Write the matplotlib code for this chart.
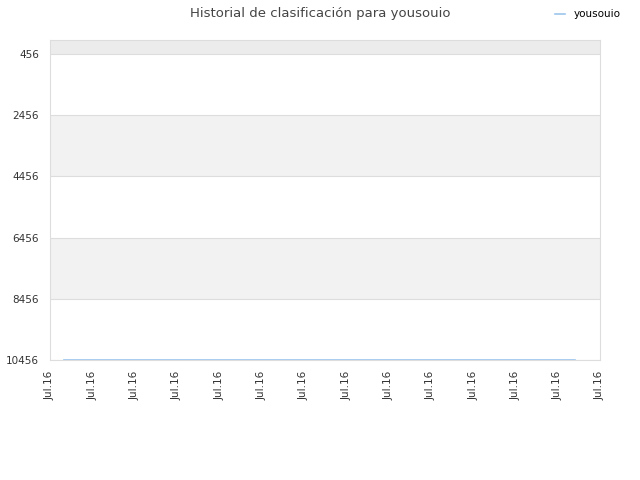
import matplotlib
matplotlib.use("Agg")
import matplotlib.pyplot as plt

# data
tick_labels = ["Jul.16"] * 14
tick_pos = list(range(14))
ranks_x = [0.33, 2.0, 4.0, 6.0, 8.0, 10.0, 12.4]
ranks_y = [10440, 10440, 10440, 10440, 10440, 10440, 10440]
ytick_vals = [456, 2456, 4456, 6456, 8456, 10456]

fig = plt.figure(figsize=(6.4, 4.8), dpi=100)
ax = fig.add_axes([50/640, 1 - 360/480, 550/640, 320/480])

# alternating bands
ax.axhspan(0, 456, color="#ececec", zorder=0, lw=0)
for i in range(len(ytick_vals) - 1):
    if i % 2 == 1:
        ax.axhspan(ytick_vals[i], ytick_vals[i + 1], color="#f2f2f2", zorder=0, lw=0)
for v in ytick_vals:
    ax.axhline(v, color="#dddddd", lw=0.8, zorder=1)

ax.plot(ranks_x, ranks_y, color="#9cc6ee", lw=1.2, zorder=3, label="yousouio")

ax.set_ylim(10456, 0)
ax.set_xlim(0, 13)
ax.set_yticks(ytick_vals)
ax.set_yticklabels([str(v) for v in ytick_vals], fontsize=7.5, color="#333333")
ax.set_xticks(tick_pos)
ax.set_xticklabels(tick_labels, rotation=90, fontsize=7.5, color="#333333")
ax.tick_params(length=0, pad=8)
for s in ax.spines.values():
    s.set_color("#dddddd")
    s.set_linewidth(0.8)

fig.text(0.5, 1 - 13/480, "Historial de clasificación para yousouio", ha="center",
         va="center", fontsize=9.5, color="#444444")
fig.legend(loc="upper right", bbox_to_anchor=(0.984, 1.0), frameon=False, fontsize=7.5,
           handlelength=1.0, handletextpad=0.8)

fig.savefig("out.png", dpi=100)
